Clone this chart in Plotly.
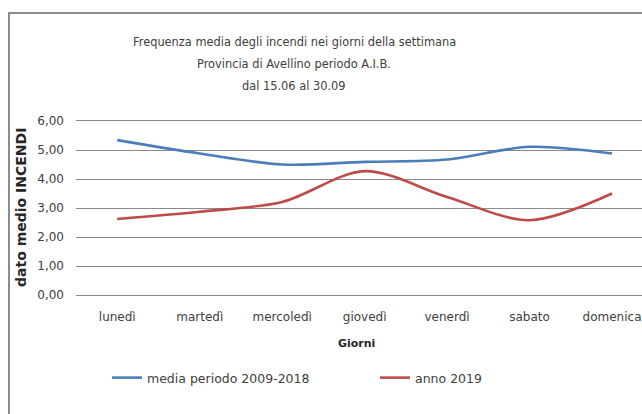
import plotly.graph_objects as go

# Giorni della settimana e frequenze medie degli incendi
giorni = ["lunedì", "martedì", "mercoledì", "giovedì", "venerdì", "sabato", "domenica"]
media_2009_2018 = [5.34, 4.88, 4.50, 4.59, 4.67, 5.11, 4.88]
anno_2019 = [2.62, 2.87, 3.21, 4.27, 3.38, 2.58, 3.50]

y_ticks = [0, 1, 2, 3, 4, 5, 6]

titolo = [
    "Frequenza media degli incendi nei giorni della settimana",
    "Provincia di Avellino periodo A.I.B.",
    "dal 15.06 al 30.09",
]

W, H = 642, 414
ML, MR, MT, MB = 76, 0, 121, 119
PW, PH = W - ML - MR, H - MT - MB

FONT = "DejaVu Sans, sans-serif"
TXT = "#404040"
GRID = "#8A8A8A"


def px(x):
    return (x - ML) / PW


def py(y):
    return (H - MB - y) / PH


fig = go.Figure()
fig.add_trace(go.Scatter(
    x=giorni, y=media_2009_2018, name="media periodo 2009-2018",
    mode="lines", line=dict(color="#4A7EBB", width=2.6, shape="spline", smoothing=0.9),
))
fig.add_trace(go.Scatter(
    x=giorni, y=anno_2019, name="anno 2019",
    mode="lines", line=dict(color="#BE4B48", width=2.6, shape="spline", smoothing=0.9),
))

annotations = []
for testo, yy in zip(titolo, [42, 64, 86]):
    annotations.append(dict(
        text=testo, x=px(294), y=py(yy), xref="paper", yref="paper",
        xanchor="center", yanchor="middle", showarrow=False,
        font=dict(family=FONT, size=11.4, color=TXT),
    ))
annotations.append(dict(
    text="<b>dato medio INCENDI</b>", x=px(21), y=py(208), xref="paper", yref="paper",
    xanchor="center", yanchor="middle", showarrow=False, textangle=-90,
    font=dict(family=FONT, size=14, color="#262626"),
))
annotations.append(dict(
    text="<b>Giorni</b>", x=px(356), y=py(343), xref="paper", yref="paper",
    xanchor="center", yanchor="middle", showarrow=False,
    font=dict(family=FONT, size=11, color="#262626"),
))

# cornice del grafico
shapes = [dict(
    type="rect", xref="paper", yref="paper",
    x0=px(9), x1=px(W + 10), y0=py(13), y1=py(H + 10),
    line=dict(color="#8C8C8C", width=2), layer="below",
)]

fig.update_layout(
    width=W, height=H,
    margin=dict(l=ML, r=MR, t=MT, b=MB),
    paper_bgcolor="white", plot_bgcolor="white",
    separators=",.",
    font=dict(family=FONT, size=11, color=TXT),
    showlegend=True,
    legend=dict(
        orientation="h", xref="container", yref="container",
        x=107 / W, y=1 - 378 / H, xanchor="left", yanchor="middle",
        entrywidth=223, font=dict(family=FONT, size=12.5, color=TXT),
        bgcolor="rgba(0,0,0,0)",
    ),
    annotations=annotations,
    shapes=shapes,
)

# la linea dell'asse x, ripetuta in alto, chiude la griglia a 0 e a 6
fig.update_xaxes(
    range=[-0.5, (W - 117) / 82.5], showgrid=False, zeroline=False,
    showline=True, mirror=True, linecolor=GRID, linewidth=1,
    ticks="", ticklabelstandoff=11,
    tickfont=dict(family=FONT, size=12, color=TXT),
)
fig.update_yaxes(
    range=[y_ticks[0], y_ticks[-1]], tickvals=y_ticks, tickformat=".2f",
    showgrid=True, gridcolor=GRID, gridwidth=1,
    zeroline=False, showline=False, ticks="", ticklabelstandoff=11,
    tickfont=dict(family=FONT, size=12, color=TXT),
)

fig.write_html("out.html")
